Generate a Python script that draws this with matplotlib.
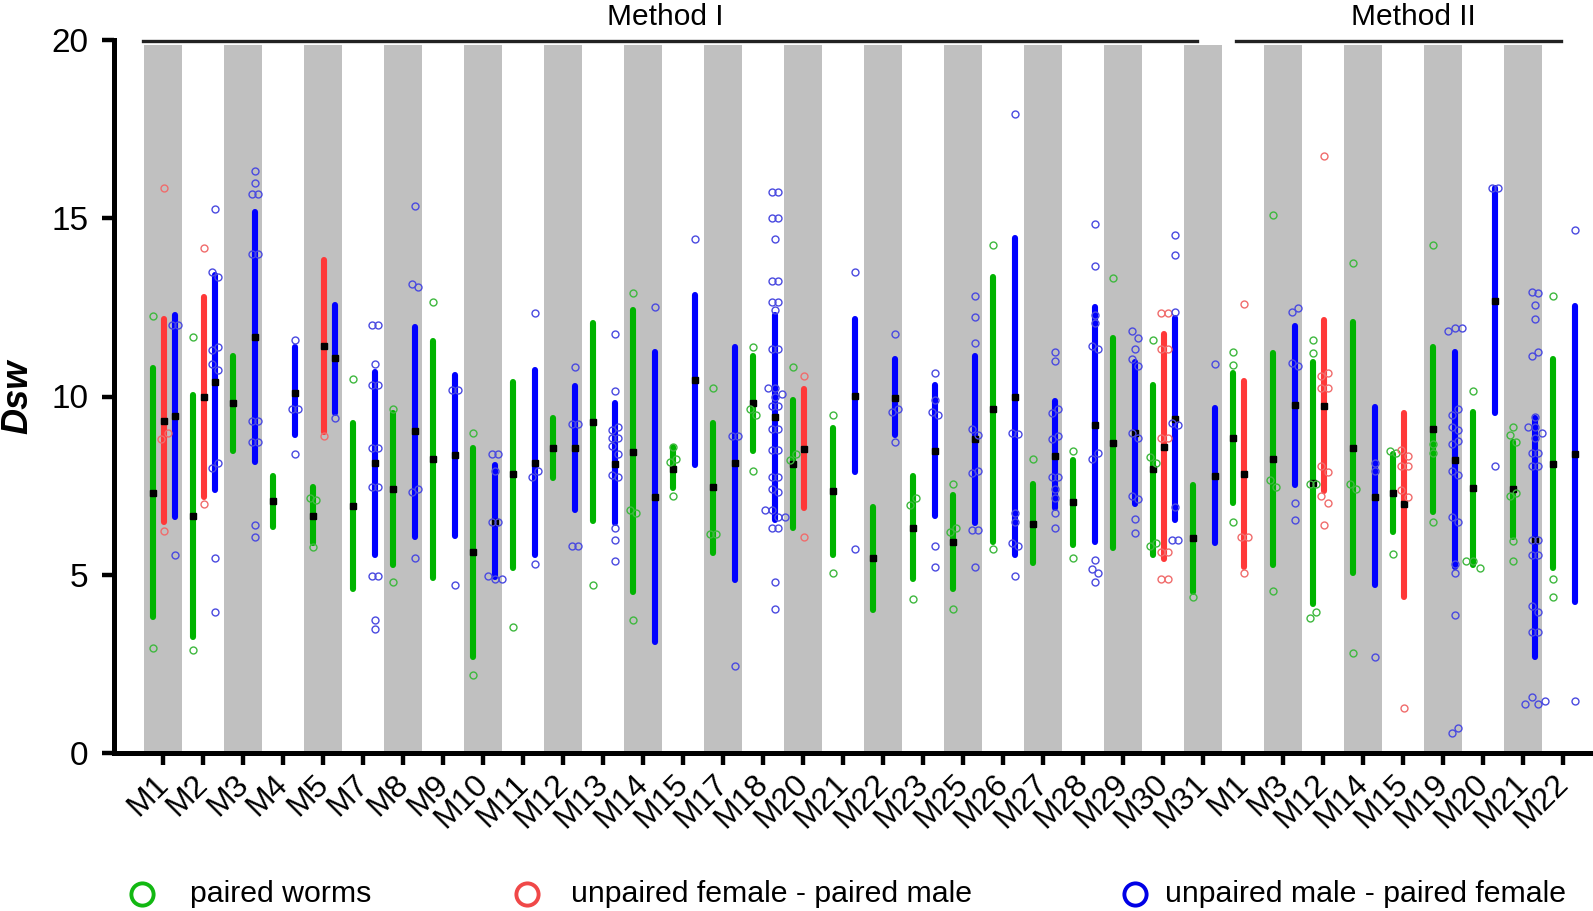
import numpy as np
import matplotlib
matplotlib.use("Agg")
import matplotlib.pyplot as plt
from matplotlib.lines import Line2D
from matplotlib.transforms import ScaledTranslation

plt.rcParams['font.family'] = ['Liberation Sans', 'DejaVu Sans']

labels = ["M1", "M2", "M3", "M4", "M5", "M7", "M8", "M9", "M10", "M11", "M12", "M13",
          "M14", "M15", "M17", "M18", "M20", "M21", "M22", "M23", "M25", "M26", "M27",
          "M28", "M29", "M30", "M31",
          "M1", "M3", "M12", "M14", "M15", "M19", "M20", "M21", "M22"]

# ---- paired worms (green) ----
g_idx = list(range(36))
g_lo = [3.81, 3.25, 8.47, 6.35, 5.89, 4.6, 5.27, 4.91, 2.69, 5.19, 7.71, 6.5, 4.52, 7.43, 5.61,
        8.47, 6.31, 5.55, 4.01, 4.88, 4.6, 5.92, 5.33, 5.83, 5.75, 5.55, 4.52, 7.01, 5.27, 4.18,
        5.06, 6.2, 6.76, 5.27, 6.06, 5.19]
g_hi = [10.8, 10.04, 11.14, 7.77, 7.46, 9.25, 9.53, 11.56, 8.55, 10.41, 9.4, 12.06, 12.43, 8.58,
        9.25, 11.14, 9.9, 9.12, 6.9, 7.77, 7.24, 13.35, 7.55, 8.22, 11.64, 10.32, 7.52, 10.66,
        11.22, 10.96, 12.08, 8.39, 11.39, 9.57, 8.73, 11.05]
g_mean = [7.29, 6.65, 9.81, 7.07, 6.65, 6.93, 7.4, 8.25, 5.64, 7.83, 8.55, 9.28, 8.44, 7.97, 7.46,
          9.82, 8.1, 7.35, 5.47, 6.31, 5.92, 9.65, 6.42, 7.04, 8.7, 7.96, 6.03, 8.84, 8.24, 7.57,
          8.56, 7.29, 9.08, 7.43, 7.4, 8.1]
g_out = [[12.26, 2.95], [11.66, 2.89], [], [], [7.15, 7.1, 5.78], [10.49], [9.65, 4.8], [12.66],
         [8.98, 2.2], [3.54], [], [4.71], [12.9, 6.82, 6.73, 3.73], [8.58, 8.16, 8.25, 7.21],
         [10.25, 6.14, 6.14], [11.39, 9.65, 9.48, 7.91], [10.83, 8.22, 8.39], [9.48, 5.05], [],
         [6.96, 7.15, 4.32], [7.55, 6.2, 6.31, 4.04], [14.25, 5.72], [8.25], [8.47, 5.47],
         [13.32], [11.58, 8.3, 8.14, 5.8, 5.89], [4.38], [11.25, 10.88, 6.48],
         [15.09, 7.66, 7.47, 4.54], [11.58, 11.22, 7.55, 7.55, 3.79, 3.96], [13.74, 7.55, 7.4, 2.8],
         [8.47, 8.42, 5.58], [14.25, 8.67, 8.42, 6.48], [10.15, 5.39, 5.39, 5.19],
         [9.15, 8.92, 8.73, 7.21, 7.29, 5.95, 5.39], [12.82, 4.88, 4.38]]

# ---- unpaired female - paired male (red) ----
r_idx = [0, 1, 4, 16, 25, 27, 29, 31]
r_lo = [6.48, 7.19, 9.0, 6.87, 5.44, 5.22, 7.35, 4.38]
r_hi = [12.17, 12.8, 13.83, 10.2, 11.75, 10.43, 12.15, 9.53]
r_mean = [9.31, 9.99, 11.43, 8.53, 8.58, 7.83, 9.73, 6.98]
r_out = [[15.85, 6.23, 8.8, 8.97], [14.17, 6.98], [8.9], [10.58, 6.06],
         [12.34, 12.34, 11.33, 11.33, 8.83, 8.83, 5.64, 5.64, 4.88, 4.88],
         [12.6, 6.06, 6.06, 5.05],
         [16.75, 10.58, 10.66, 10.24, 10.24, 8.05, 7.88, 7.21, 7.01, 6.4],
         [8.5, 8.33, 8.05, 8.05, 7.38, 7.19, 1.27]]

# ---- unpaired male - paired female (blue) ----
b_idx = [0, 1, 2, 3, 4, 5, 6, 7, 8, 9, 10, 11, 12, 13, 14, 15, 17, 18, 19, 20, 21, 22, 23, 24,
         25, 26, 28, 30, 32, 33, 34, 35]
b_lo = [6.62, 7.38, 8.16, 8.92, 9.53, 5.55, 6.06, 6.09, 4.94, 5.55, 6.82, 6.45, 3.11, 8.08, 4.85,
        6.53, 7.88, 8.92, 6.65, 6.45, 5.55, 6.87, 5.92, 6.98, 6.54, 5.89, 7.52, 4.71, 5.22, 9.54,
        2.7, 4.24]
b_hi = [12.3, 13.4, 15.17, 11.4, 12.57, 10.7, 11.96, 10.6, 8.08, 10.74, 10.3, 9.82, 11.25, 12.85,
        11.39, 12.29, 12.17, 11.05, 10.32, 11.14, 14.45, 9.87, 12.5, 10.97, 12.2, 9.68, 11.98,
        9.71, 11.25, 15.85, 9.4, 12.54]
b_mean = [9.45, 10.4, 11.67, 10.1, 11.07, 8.13, 9.03, 8.36, 6.48, 8.13, 8.55, 8.1, 7.18, 10.46,
          8.13, 9.43, 10.02, 9.96, 8.47, 8.81, 9.99, 8.33, 9.2, 8.98, 9.37, 7.77, 9.76, 7.19, 8.22,
          12.68, 5.98, 8.39]
b_out = [[12.0, 12.0, 5.55],
         [15.25, 13.5, 13.35, 11.3, 11.4, 10.9, 10.74, 8.0, 8.13, 5.47, 3.95],
         [16.33, 16.0, 15.67, 15.67, 14.0, 14.0, 9.31, 9.31, 8.73, 8.73, 6.4, 6.06],
         [11.58, 9.65, 9.65, 8.39],
         [9.4],
         [12.0, 12.0, 10.9, 10.32, 10.32, 8.55, 8.55, 7.46, 7.46, 4.97, 4.97, 3.73, 3.48],
         [15.34, 13.16, 13.08, 7.32, 7.4, 5.47],
         [10.18, 10.18, 4.71],
         [8.39, 8.39, 7.91, 6.48, 6.48, 4.97, 4.88, 4.88],
         [12.33, 7.74, 7.91, 5.3],
         [10.83, 9.23, 9.23, 5.8, 5.8],
         [11.74, 10.16, 9.06, 9.15, 8.84, 8.84, 8.6, 8.39, 7.8, 7.74, 6.31, 5.98, 5.39],
         [12.5],
         [14.42],
         [8.89, 8.89, 2.44],
         [15.74, 15.74, 15.0, 15.0, 14.42, 13.25, 13.25, 12.66, 12.66, 12.43, 11.33, 11.33,
          10.24, 10.24, 9.99, 10.07, 9.73, 9.73, 9.09, 9.09, 8.5, 8.5, 7.74, 7.74, 7.4, 7.32,
          6.82, 6.82, 6.62, 6.62, 6.31, 6.31, 4.8, 4.04],
         [13.49, 5.72],
         [11.74, 9.56, 9.65, 8.73],
         [10.66, 9.56, 9.9, 9.48, 5.8, 5.22],
         [12.82, 12.23, 11.5, 9.09, 8.92, 7.85, 7.91, 6.26, 6.26, 5.22],
         [17.92, 8.98, 8.95, 6.48, 5.89, 5.8, 6.73, 4.97],
         [11.25, 11.0, 9.53, 9.65, 8.8, 8.9, 7.74, 7.74, 7.4, 7.15, 6.73, 6.31],
         [14.83, 13.66, 12.06, 12.29, 11.42, 11.33, 8.25, 8.42, 5.41, 5.16, 5.05, 4.8],
         [11.84, 11.64, 11.33, 11.05, 10.86, 8.98, 8.84, 7.21, 7.12, 6.56, 6.17],
         [14.53, 13.97, 12.37, 9.26, 9.2, 6.9, 5.98, 5.98],
         [10.91],
         [12.37, 12.48, 10.94, 10.86, 7.01, 6.54],
         [8.14, 7.92, 2.69],
         [11.84, 11.92, 11.92, 9.48, 9.65, 9.15, 9.06, 8.67, 8.75, 7.91, 7.8, 6.62, 6.48, 5.3,
          5.05, 3.87, 0.56, 0.7],
         [15.85, 15.85, 8.05],
         [12.93, 12.9, 12.57, 12.17, 11.13, 11.25, 9.43, 9.15, 9.15, 8.98, 8.84, 8.42, 8.42,
          8.05, 8.05, 5.98, 5.98, 5.55, 5.55, 4.12, 3.96, 3.39, 3.39, 1.37, 1.57, 1.37, 1.45],
         [14.67, 1.46]]

method_names = ["Method I", "Method II"]
legend_names = ["paired worms", "unpaired female - paired male", "unpaired male - paired female"]

# ---- styling ----
W, H, DPI = 1593, 911, 100
fig = plt.figure(figsize=(W / DPI, H / DPI), dpi=DPI)
ax = fig.add_axes([114 / W, 1 - 753 / H, 1 - 114 / W, (753 - 40) / H])
ax.set_xlim(-1.225, 35.75)
ax.set_ylim(0, 20)

# alternating bands
for i in range(0, len(labels), 2):
    ax.fill_between([i - 0.48, i + 0.48], 0, 19.85, color='#c0c0c0', lw=0, zorder=0)

series = [
    (g_idx, g_lo, g_hi, g_mean, g_out, -0.25, '#00b400', '#3fb83f'),
    (r_idx, r_lo, r_hi, r_mean, r_out, 0.03, '#ff3838', '#f06c6c'),
    (b_idx, b_lo, b_hi, b_mean, b_out, 0.30, '#0000ff', '#4a4ae0'),
]


def offsets(vals, tol=0.22, step=0.17):
    vals = np.asarray(vals, float)
    off = np.zeros(len(vals))
    used = np.zeros(len(vals), bool)
    for i in range(len(vals)):
        if used[i]:
            continue
        grp = [j for j in range(len(vals)) if not used[j] and abs(vals[j] - vals[i]) < tol]
        for k, j in enumerate(grp):
            off[j] = (k - (len(grp) - 1) / 2) * step
            used[j] = True
    return off


for idx, lo, hi, mean, outs, dx, c_bar, c_pt in series:
    for i, l, h, m, o in zip(idx, lo, hi, mean, outs):
        x = i + dx
        ax.plot([x, x], [l, h], color=c_bar, lw=4.4, solid_capstyle='round', zorder=2)
        ax.plot([x], [m], marker='s', color='black', ms=4.8, zorder=3, linestyle='none')
        if o:
            xo = x + offsets(o)
            ax.plot(xo, o, marker='o', linestyle='none', mfc='none', mec=c_pt, ms=5.0,
                    mew=1.0, zorder=4)

# method lines / labels
ax.plot([-0.5, 25.85], [19.97, 19.97], color='#222222', lw=2.4, clip_on=False, zorder=5)
ax.plot([26.83, 34.95], [19.97, 19.97], color='#222222', lw=2.4, clip_on=False, zorder=5)
ax.text(12.55, 20.64, method_names[0], ha='center', va='center', fontsize=21.5, clip_on=False)
ax.text(31.25, 20.64, method_names[1], ha='center', va='center', fontsize=21.5, clip_on=False)

# spines/ticks
for s in ['top', 'right']:
    ax.spines[s].set_visible(False)
for s in ['left', 'bottom']:
    ax.spines[s].set_linewidth(3.6)
ax.set_yticks([0, 5, 10, 15, 20])
ax.set_yticklabels(['0', '5', '10', '15', '20'], fontsize=24)
ax.tick_params(axis='y', direction='out', length=8.6, width=3.2, pad=10)
ax.set_xticks(range(len(labels)))
ax.set_xticklabels(labels, rotation=45, ha='right', va='top', rotation_mode='anchor',
                   fontsize=23)
ax.tick_params(axis='x', direction='out', length=8.6, width=3.2, pad=3)
shift = ScaledTranslation(-10 / DPI, 0, fig.dpi_scale_trans)
for t in ax.get_xticklabels():
    t.set_transform(t.get_transform() + shift)

fig.text(18 / W, 1 - 397 / H, 'Dsw', rotation=90, ha='center', va='center',
         fontsize=26, fontweight='bold', fontstyle='italic')

# legend
leg_marker_x = [142, 527, 1135]
leg_text_x = [190, 571, 1165]
leg_cols = ['#12b812', '#f04848', '#0000e6']
for mx, tx, c, name in zip(leg_marker_x, leg_text_x, leg_cols, legend_names):
    fig.add_artist(Line2D([mx / W], [1 - 894 / H], marker='o', mfc='none', mec=c, ms=16,
                          mew=2.8, linestyle='none', transform=fig.transFigure))
    fig.text(tx / W, 1 - 894 / H, name, ha='left', va='center', fontsize=21.8)

fig.savefig('out.png', dpi=DPI)
